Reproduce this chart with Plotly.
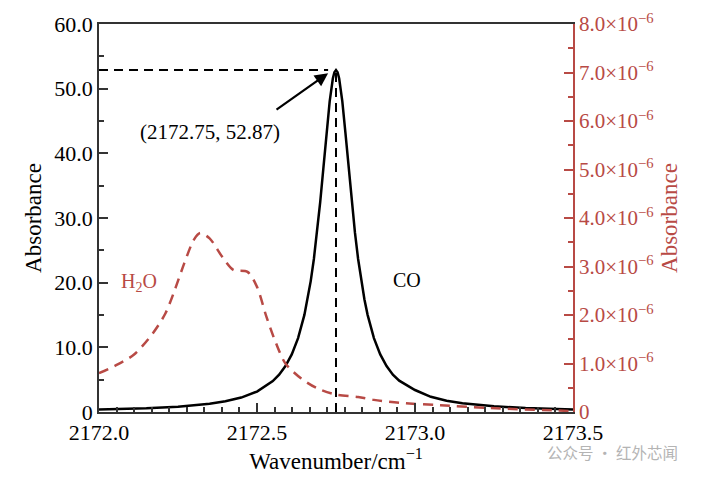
import plotly.graph_objects as go

# CO absorption line (left axis)
co_wn = [2172.00, 2172.15, 2172.25, 2172.35, 2172.40, 2172.45, 2172.50, 2172.55,
         2172.57, 2172.59, 2172.61, 2172.63, 2172.65, 2172.66, 2172.67, 2172.68,
         2172.69, 2172.70, 2172.71, 2172.72, 2172.73, 2172.74, 2172.745, 2172.75,
         2172.755, 2172.76, 2172.77, 2172.78, 2172.79, 2172.80, 2172.81, 2172.82,
         2172.83, 2172.84, 2172.85, 2172.87, 2172.89, 2172.91, 2172.93, 2172.95,
         2173.00, 2173.05, 2173.10, 2173.15, 2173.25, 2173.35, 2173.50]
co_abs = [0.40, 0.58, 0.83, 1.28, 1.66, 2.23, 3.16, 4.77,
          5.77, 7.10, 8.91, 11.43, 15.02, 17.39, 20.24, 23.66,
          27.73, 32.44, 37.68, 43.10, 48.03, 51.57, 52.54, 52.87,
          52.54, 51.57, 48.03, 43.10, 37.68, 32.44, 27.73, 23.66,
          20.24, 17.39, 15.02, 11.43, 8.91, 7.10, 5.77, 4.85,
          3.40, 2.35, 1.75, 1.35, 0.88, 0.62, 0.40]

# H2O absorption (right axis)
h2o_wn = [2172.00, 2172.05, 2172.11, 2172.17, 2172.21, 2172.24, 2172.27, 2172.30,
          2172.32, 2172.35, 2172.39, 2172.425, 2172.47, 2172.50, 2172.53, 2172.56,
          2172.59, 2172.64, 2172.69, 2172.75, 2172.82, 2172.87, 2172.95, 2173.08,
          2173.24, 2173.45, 2173.50]
h2o_abs = [0.80e-6, 0.95e-6, 1.18e-6, 1.62e-6, 2.03e-6, 2.52e-6, 3.07e-6, 3.55e-6,
           3.69e-6, 3.58e-6, 3.20e-6, 2.93e-6, 2.89e-6, 2.58e-6, 1.96e-6, 1.42e-6,
           1.00e-6, 0.69e-6, 0.49e-6, 0.36e-6, 0.31e-6, 0.25e-6, 0.19e-6, 0.14e-6,
           0.08e-6, 0.03e-6, 0.02e-6]

peak_x, peak_y = 2172.75, 52.87

left_vals = [0, 10, 20, 30, 40, 50, 60]
left_text = ["0", "10.0", "20.0", "30.0", "40.0", "50.0", "60.0"]
right_vals = [0, 1e-6, 2e-6, 3e-6, 4e-6, 5e-6, 6e-6, 7e-6, 8e-6]
right_text = ["0"] + ["%.1f×10<sup>−6</sup>" % v for v in range(1, 9)]
x_vals = [2172.0, 2172.5, 2173.0, 2173.5]
x_text = ["2172.0", "2172.5", "2173.0", "2173.5"]

RED = "#b84a45"
FONT = "Liberation Serif"

fig = go.Figure()
fig.add_trace(go.Scatter(x=co_wn, y=co_abs, mode="lines",
                         line=dict(color="black", width=2.5), showlegend=False))
fig.add_trace(go.Scatter(x=h2o_wn, y=h2o_abs, mode="lines", line_shape="spline",
                         line=dict(color=RED, width=2.5, dash="10px,7px", smoothing=0.8),
                         yaxis="y2", showlegend=False))

# peak markers
fig.add_shape(type="line", x0=2172.0, x1=2172.725, y0=peak_y, y1=peak_y,
              line=dict(color="black", width=2, dash="9px,6px"))
fig.add_shape(type="line", x0=peak_x, x1=peak_x, y0=0, y1=peak_y,
              line=dict(color="black", width=2, dash="9px,6px"))

fig.add_annotation(x=2172.725, y=52.4, ax=2172.557, ay=46.6, axref="x", ayref="y",
                   text="", showarrow=True, arrowhead=2, arrowsize=1.2,
                   arrowwidth=2.2, arrowcolor="black")
fig.add_annotation(x=2172.35, y=43.3, text="(2172.75, 52.87)", showarrow=False,
                   font=dict(size=21, color="black"))
fig.add_annotation(x=2172.975, y=20.4, text="CO", showarrow=False,
                   font=dict(size=20, color="black"))
fig.add_annotation(x=2172.125, y=20.1, text="H<sub>2</sub>O", showarrow=False,
                   font=dict(size=20, color=RED))
fig.add_annotation(x=1.2257, y=-0.103, xref="paper", yref="paper",
                   xanchor="right", yanchor="middle",
                   text="公众号 · 红外芯闻", showarrow=False,
                   font=dict(size=15.5, color="#b4b4b4", family="Noto Sans CJK SC"))

# page body has an 8px margin, so the figure is 8px smaller than the window
fig.update_layout(
    width=696, height=472,
    margin=dict(l=91, r=131, t=16, b=68),
    paper_bgcolor="white", plot_bgcolor="white",
    font=dict(family=FONT, size=19, color="black"),
    xaxis=dict(range=[2172.0, 2173.5], tickvals=x_vals, ticktext=x_text,
               ticks="inside", ticklen=9, tickwidth=1.5, tickcolor="#333",
               minor=dict(ticks="inside", ticklen=5, dtick=0.5 / 9, tick0=2172.0,
                          tickcolor="#333"),
               tickfont=dict(size=22),
               showline=True, linecolor="#333", linewidth=1.5, mirror=True,
               showgrid=False, zeroline=False, automargin=False,
               title=dict(text="Wavenumber/cm<sup>−1</sup>", standoff=2)),
    yaxis=dict(range=[0, 60], tickvals=left_vals, ticktext=left_text,
               ticks="inside", ticklen=9, tickwidth=1.5, tickcolor="#333",
               minor=dict(ticks="inside", ticklen=5, dtick=5, tickcolor="#333"),
               tickfont=dict(size=22),
               showline=True, linecolor="#333", linewidth=1.5,
               showgrid=False, zeroline=False, automargin=False,
               title=dict(text="Absorbance", standoff=6)),
    yaxis2=dict(range=[0, 8e-6], tickvals=right_vals, ticktext=right_text,
                overlaying="y", side="right",
                ticks="inside", ticklen=9, tickwidth=1.5, tickcolor=RED,
                minor=dict(ticks="inside", ticklen=5, dtick=0.5e-6, tickcolor=RED),
                showline=True, linecolor=RED, linewidth=1.5,
                showgrid=False, zeroline=False, automargin=False,
                tickfont=dict(color=RED, size=21),
                title=dict(text="Absorbance", standoff=8, font=dict(color=RED))),
)

fig.write_html("out.html")
